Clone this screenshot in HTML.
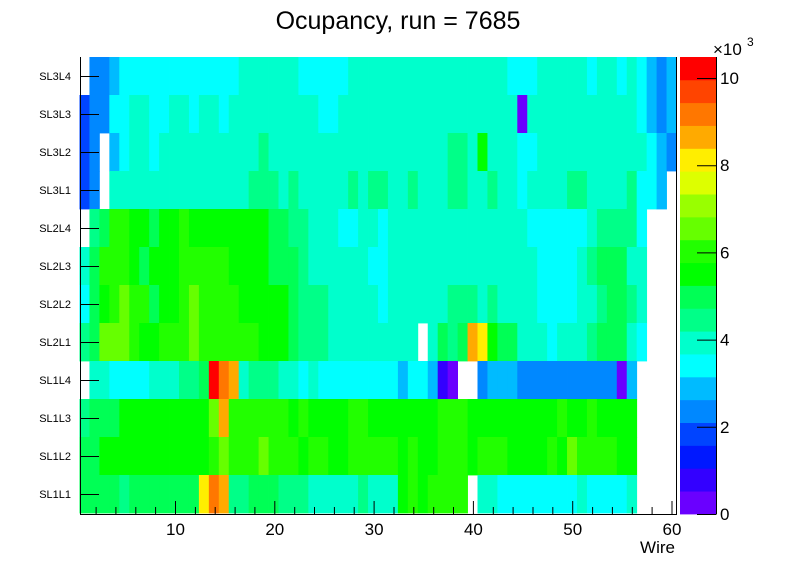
<!DOCTYPE html>
<html><head><meta charset="utf-8">
<style>
html,body{margin:0;padding:0;background:#fff;}
svg{display:block;font-family:"Liberation Sans",Arial,sans-serif;}
</style></head>
<body>
<svg id="s" xmlns="http://www.w3.org/2000/svg" width="796" height="572" viewBox="0 0 796 572">
<rect width="796" height="572" fill="#fff"/>
<g id="cells"></g>
<g id="pal"></g>
<g id="axes" stroke="#000" stroke-width="1" fill="none"></g>
<text x="398" y="29" font-size="25" text-anchor="middle">Ocupancy, run = 7685</text>
<g id="labels" font-size="17" text-anchor="middle"></g>
<g id="ylabels" font-size="11" text-anchor="end"></g>
<text x="675" y="553" font-size="17" text-anchor="end">Wire</text>
<text x="713" y="55" font-size="17">×10</text>
<text x="747" y="46" font-size="12">3</text>
</svg>
<script>
var C={W:null,V:"#6a00ff",P:"#3300ff",Q:"#0018ff",B:"#0044ff",b:"#0088ff",s:"#00bbff",c:"#00ffff",t:"#00ffcc",m:"#00ff88",g:"#00ff55",G:"#00ff00",h:"#22ff00",l:"#66ff00",k:"#99ff00",d:"#ddff00",y:"#ffee00",o:"#ffaa00",O:"#ff7700",r:"#ff4400",R:"#ff0000"};
var rows=[
"Wbbs"+"cccccccccccc"+"tttttt"+"ccccc"+"ttt"+"ttttttttttttt"+"ccc"+"ttttt"+"c"+"tt"+"c"+"t"+"c"+"s"+"b"+"s",
"B"+"bb"+"cc"+"tt"+"cc"+"tt"+"c"+"tt"+"c"+"ttttttttt"+"cc"+"tttt"+"tttttttttttttt"+"V"+"ttttttttttt"+"c"+"s"+"b"+"s",
"B"+"b"+"W"+"s"+"c"+"tt"+"c"+"tttttttttt"+"m"+"ttttttttttt"+"ttttttt"+"mm"+"t"+"G"+"ttt"+"cc"+"ttttttttttt"+"c"+"s"+"b",
"B"+"b"+"W"+"tttttttttttttt"+"mmm"+"t"+"m"+"ttttt"+"m"+"t"+"m"+"m"+"tt"+"m"+"ttt"+"mm"+"tt"+"m"+"tt"+"c"+"tttt"+"mm"+"tttt"+"m"+"cc"+"s"+"W",
"W"+"m"+"g"+"hh"+"GG"+"g"+"GG"+"h"+"GGGGGGGG"+"gg"+"mm"+"ttt"+"cc"+"tt"+"c"+"tttttttttttttt"+"cccccc"+"t"+"mmmm"+"c"+"WWW",
"t"+"g"+"hhh"+"G"+"g"+"GGG"+"hhhhh"+"GGGG"+"ggg"+"m"+"tttttt"+"c"+"c"+"ttttttttttttttt"+"cccc"+"t"+"m"+"ggg"+"tt"+"WWW",
"c"+"g"+"G"+"h"+"l"+"hh"+"g"+"GG"+"h"+"l"+"hhhh"+"GGGGG"+"g"+"mmm"+"ttttt"+"c"+"tttttt"+"mmm"+"t"+"m"+"tttt"+"cccc"+"tt"+"m"+"gg"+"m"+"t"+"WWW",
"m"+"g"+"lll"+"h"+"GG"+"hhh"+"l"+"hhhhhh"+"GGG"+"g"+"mmm"+"ttttt"+"tttt"+"W"+"t"+"g"+"m"+"g"+"o"+"y"+"G"+"gg"+"ttt"+"c"+"ttt"+"m"+"ggg"+"t"+"c"+"WWW",
"W"+"tt"+"cccc"+"ttt"+"mm"+"g"+"R"+"O"+"o"+"t"+"mmm"+"tt"+"c"+"t"+"cccccc"+"cc"+"s"+"cc"+"s"+"P"+"V"+"WW"+"b"+"sss"+"bbbbbbbbbb"+"V"+"s"+"WWWW",
"m"+"ggg"+"GGGGGGGGG"+"l"+"o"+"hhhhhh"+"G"+"h"+"GGGG"+"hh"+"G"+"GGGGGG"+"hhh"+"GGGGGGGGG"+"h"+"GG"+"h"+"GGGG"+"WWWW",
"gg"+"GGGGGGGGGGG"+"h"+"l"+"hhh"+"l"+"hhh"+"G"+"hh"+"GG"+"hhh"+"hh"+"G"+"h"+"GG"+"hhh"+"G"+"hhh"+"GGGG"+"h"+"G"+"l"+"hhhh"+"GG"+"WWWW",
"gggg"+"m"+"ggggggg"+"y"+"O"+"o"+"mm"+"ggg"+"mmm"+"ttttt"+"m"+"t"+"tt"+"G"+"h"+"G"+"hhhh"+"W"+"tt"+"cccccccc"+"t"+"cccc"+"t"+"WWWW"
];
var NS="http://www.w3.org/2000/svg";
function el(p,n,a,txt){var e=document.createElementNS(NS,n);for(var k in a)e.setAttribute(k,a[k]);if(txt!=null)e.textContent=txt;p.appendChild(e);return e;}
var cells=document.getElementById("cells");
var x0=79.5,dx=9.95,y0=57,dy=38;
for(var r=0;r<12;r++){var row=rows[r];
 for(var i=0;i<60;i++){var col=C[row[i]];if(!col)continue;
  var xa=x0+i*dx,xb=x0+(i+1)*dx;
  el(cells,"rect",{x:xa.toFixed(2),y:y0+r*dy,width:(xb-xa+0.4).toFixed(2),height:dy+0.4,fill:col});}}
var pal=document.getElementById("pal");
var pc=["V","P","Q","B","b","s","c","t","m","g","G","h","l","k","d","y","o","O","r","R"];
var pb=514,ph=(514-57)/20;
for(var j=0;j<20;j++){el(pal,"rect",{x:680,y:(pb-(j+1)*ph).toFixed(2),width:36,height:(ph+0.4).toFixed(2),fill:C[pc[j]]});}
var ax=document.getElementById("axes");
el(ax,"path",{d:"M80.5 57V514.5H677M676.5 57V514.5M716.5 57V514.5"});
var yl=document.getElementById("ylabels");
var names=["SL3L4","SL3L3","SL3L2","SL3L1","SL2L4","SL2L3","SL2L2","SL2L1","SL1L4","SL1L3","SL1L2","SL1L1"];
for(var r=0;r<12;r++){var yc=y0+r*dy+dy/2;
 el(ax,"path",{d:"M80 "+(yc+0.5)+"H99"});
 el(yl,"text",{x:71,y:yc+4},names[r]);}
var lab=document.getElementById("labels");
for(var v=2;v<=60;v+=2){var x=175.5+(v-10)*9.93;var L=(v%10==0)?13:7;
 el(ax,"path",{d:"M"+x.toFixed(1)+" 514V"+(514-L)});
 if(v%10==0)el(lab,"text",{x:x.toFixed(1),y:535},String(v));}
var pt=[0,2,4,6,8,10];
for(var q=0;q<pt.length;q++){var yy=514-pt[q]*43.6;
 el(ax,"path",{d:"M697 "+(yy+0.5).toFixed(1)+"H716"});
 el(lab,"text",{x:720,y:(yy+6).toFixed(1),"text-anchor":"start","font-size":"17"},String(pt[q]));}
</script>
</body></html>
